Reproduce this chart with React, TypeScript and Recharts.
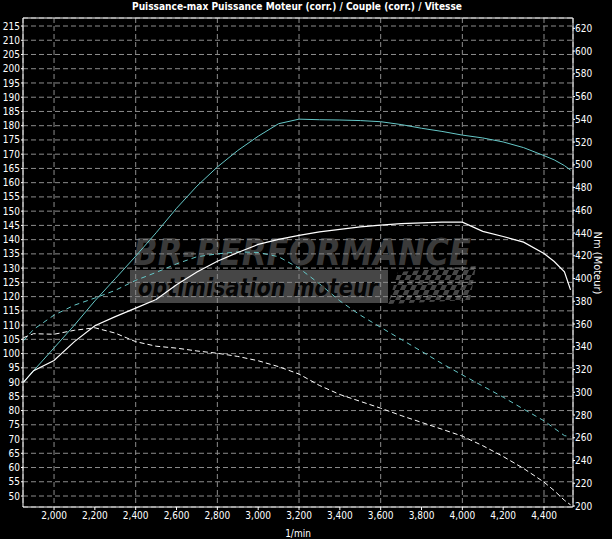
import React from 'react';
import { LineChart, Line, XAxis, YAxis, CartesianGrid, ReferenceLine } from 'recharts';

const rpm = [1850, 1900, 2000, 2100, 2200, 2300, 2400, 2500, 2600, 2700, 2800, 2900, 3000, 3100, 3200, 3300, 3400, 3500, 3600, 3700, 3800, 3900, 4000, 4100, 4200, 4300, 4400, 4450, 4500, 4530];
const powerTuned = [90, 94, 102, 110, 118.5, 126.3, 134.2, 142.4, 151, 158.8, 165.5, 171.3, 176.3, 180.7, 182.3, 182.1, 182, 181.8, 181.4, 180.4, 179.1, 178, 176.7, 175.7, 174.3, 172.3, 169.5, 168, 166, 164.4];
const torqueTuned = [308.6, 319, 328, 344.5, 358.5, 366.5, 374, 381.5, 394.5, 405.8, 415.2, 422.9, 430, 434.5, 438, 441, 443.2, 445.5, 447, 448.2, 449, 449.6, 449.6, 441.5, 437, 432, 422, 415, 406, 390];
const powerStock = [104.5, 108.5, 113.5, 117, 119.5, 122.2, 125.7, 128.5, 131.5, 134, 135, 135.7, 135.5, 134, 130, 124.5, 118.5, 113.5, 109.2, 105, 100.8, 96.5, 92.5, 88.6, 84.7, 80.5, 76.4, 73.8, 71.2, 70.8];
const torqueStock = [348, 351.5, 351, 354.5, 356.7, 352, 344.5, 340.5, 338.8, 336.3, 334.3, 331.5, 327.7, 322.5, 316, 306, 298, 292, 286, 279.5, 273.5, 267.5, 261.4, 253, 243.5, 233, 221, 213.5, 205, 201];

const xTicks = [2000, 2200, 2400, 2600, 2800, 3000, 3200, 3400, 3600, 3800, 4000, 4200, 4400];
const leftTicks = [50, 55, 60, 65, 70, 75, 80, 85, 90, 95, 100, 105, 110, 115, 120, 125, 130, 135, 140, 145, 150, 155, 160, 165, 170, 175, 180, 185, 190, 195, 200, 205, 210, 215];
const rightTicks = [200, 220, 240, 260, 280, 300, 320, 340, 360, 380, 400, 420, 440, 460, 480, 500, 520, 540, 560, 580, 600, 620];

const title = 'Puissance-max Puissance Moteur (corr.) / Couple (corr.) / Vitesse';
const rightLabel = 'Nm (Moteur)';
const xLabel = '1/min';

const data = rpm.map((r, i) => ({
  rpm: r,
  powerTuned: powerTuned[i],
  torqueTuned: torqueTuned[i],
  powerStock: powerStock[i],
  torqueStock: torqueStock[i],
}));

const FONT = "'Liberation Sans Narrow', 'DejaVu Sans Condensed', 'Liberation Sans', sans-serif";
const CYAN = '#66c8c8';
const tickStyle = { fill: '#ffffff', fontSize: 10, fontFamily: FONT };

export default function App() {
  return (
    <div style={{ position: 'absolute', left: 0, top: 0, width: 612, height: 539, background: '#000', overflow: 'hidden' }}>
      <svg width={612} height={539} style={{ position: 'absolute', left: 0, top: 0 }}>
        <defs>
          <pattern id="chk" width="10" height="10" patternUnits="userSpaceOnUse" patternTransform="skewX(-25)">
            <rect x="0" y="0" width="5" height="5" fill="#474747" />
            <rect x="5" y="5" width="5" height="5" fill="#474747" />
          </pattern>
        </defs>
        <text x={133} y={265} fontSize={37} fontWeight={900} fontStyle="italic" fill="#3a3a3a"
          fontFamily="'DejaVu Sans', sans-serif" textLength={338} lengthAdjust="spacingAndGlyphs">BR-PERFORMANCE</text>
        <rect x={130} y={270} width={258} height={33} fill="#464646" />
        <text x={138} y={296} fontSize={24} fontWeight={700} fontStyle="italic" fill="#050505"
          fontFamily="'DejaVu Sans', sans-serif" textLength={240} lengthAdjust="spacingAndGlyphs">optimisation moteur</text>
        <polygon points="388,304 398,272 476,266 470,300" fill="url(#chk)" />
      </svg>
      <div style={{ position: 'absolute', left: 0, top: 0 }}>
        <LineChart width={612} height={539} data={data} margin={{ top: 18, right: 0, bottom: 0, left: 0 }}>
          <CartesianGrid yAxisId="left" stroke="#8c8c8c" strokeDasharray="5 3" strokeWidth={1} />
          <XAxis dataKey="rpm" type="number" domain={[1848, 4542]} allowDataOverflow ticks={xTicks}
            height={32} stroke="#ffffff" tick={tickStyle} tickSize={3} tickMargin={2}
            tickFormatter={(v: number) => v.toLocaleString('en-US')}
            label={{ value: xLabel, position: 'insideBottom', offset: 2, fill: '#ffffff', fontSize: 10, fontFamily: FONT }} />
          <YAxis yAxisId="left" domain={[46.14, 217.81]} allowDataOverflow ticks={leftTicks} width={23}
            stroke="#ffffff" tick={tickStyle} tickSize={2} tickMargin={1} interval={0} />
          <YAxis yAxisId="right" orientation="right" domain={[199.1, 629.1]} allowDataOverflow ticks={rightTicks} width={39}
            stroke="#ffffff" tick={tickStyle} tickSize={2} tickMargin={0} interval={0} />
          <ReferenceLine yAxisId="left" y={217.81} stroke="#ffffff" strokeWidth={1} />
          <Line yAxisId="left" dataKey="powerStock" stroke={CYAN} strokeWidth={1} strokeDasharray="5 4" dot={false} isAnimationActive={false} />
          <Line yAxisId="right" dataKey="torqueStock" stroke="#ffffff" strokeWidth={1} strokeDasharray="5 3" dot={false} isAnimationActive={false} />
          <Line yAxisId="left" dataKey="powerTuned" stroke={CYAN} strokeWidth={1} dot={false} isAnimationActive={false} />
          <Line yAxisId="right" dataKey="torqueTuned" stroke="#ffffff" strokeWidth={1.2} dot={false} isAnimationActive={false} />
        </LineChart>
      </div>
      <svg width={612} height={539} style={{ position: 'absolute', left: 0, top: 0, pointerEvents: 'none' }}>
        <text x={297} y={10} textAnchor="middle" fontSize={11} fontWeight={700} fill="#ffffff" fontFamily={FONT}
          textLength={330} lengthAdjust="spacingAndGlyphs">{title}</text>
        <text x={0} y={0} transform="translate(594,263) rotate(90)" textAnchor="middle" fontSize={11} fill="#ffffff" fontFamily={FONT}>{rightLabel}</text>
      </svg>
    </div>
  );
}
